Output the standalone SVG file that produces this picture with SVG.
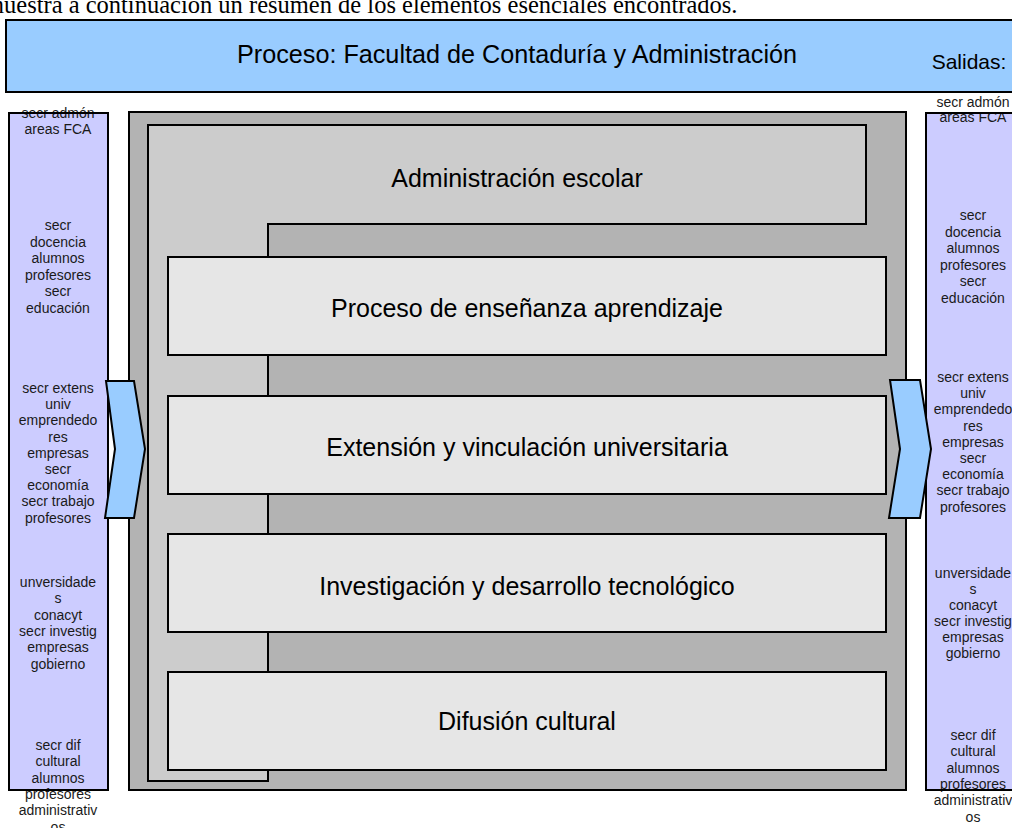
<svg xmlns="http://www.w3.org/2000/svg" width="1012" height="828" viewBox="0 0 1012 828">
<style>
.sm{font-family:"Liberation Sans",Arial,sans-serif;font-size:14px;fill:#1a1a1a;text-anchor:middle}
.lbl{font-family:"Liberation Sans",Arial,sans-serif;font-size:25px;fill:#000;text-anchor:middle}
.box{fill:#e6e6e6;stroke:#000;stroke-width:2}
.col{fill:#ccccff}
.colb{fill:none;stroke:#000;stroke-width:2}
.arr{fill:#99ccff;stroke:#000;stroke-width:2;stroke-linejoin:miter}
</style>
<rect width="1012" height="828" fill="#fff"/>
<text x="-15" y="13" font-family="Liberation Serif,'Times New Roman',serif" font-size="24.5" fill="#000">muestra a continuación un resumen de los elementos esenciales encontrados.</text>

<g id="banner">
<rect x="6" y="20" width="1020" height="72" fill="#99ccff" stroke="#000" stroke-width="2"/>
<text x="517" y="63" font-family="Liberation Sans,Arial,sans-serif" font-size="25" textLength="560" lengthAdjust="spacingAndGlyphs" text-anchor="middle" fill="#000">Proceso: Facultad de Contaduría y Administración</text>
<text x="969" y="69" font-family="Liberation Sans,Arial,sans-serif" font-size="21" text-anchor="middle" fill="#000">Salidas:</text>
</g>

<g id="inputs">
<rect class="col" x="9" y="113" width="99" height="677"/>
<text class="sm"><tspan x="58" y="118">secr admón</tspan><tspan x="58" y="134">areas FCA</tspan></text>
<text class="sm"><tspan x="58" y="230">secr</tspan><tspan x="58" y="246.5">docencia</tspan><tspan x="58" y="263">alumnos</tspan><tspan x="58" y="279.5">profesores</tspan><tspan x="58" y="296">secr</tspan><tspan x="58" y="312.5">educación</tspan></text>
<text class="sm"><tspan x="58" y="393">secr extens</tspan><tspan x="58" y="409.2">univ</tspan><tspan x="58" y="425.4">emprendedo</tspan><tspan x="58" y="441.6">res</tspan><tspan x="58" y="457.8">empresas</tspan><tspan x="58" y="474">secr</tspan><tspan x="58" y="490.2">economía</tspan><tspan x="58" y="506.4">secr trabajo</tspan><tspan x="58" y="522.6">profesores</tspan></text>
<text class="sm"><tspan x="58" y="587">unversidade</tspan><tspan x="58" y="603.3">s</tspan><tspan x="58" y="619.6">conacyt</tspan><tspan x="58" y="635.9">secr investig</tspan><tspan x="58" y="652.2">empresas</tspan><tspan x="58" y="668.5">gobierno</tspan></text>
<text class="sm"><tspan x="58" y="750">secr dif</tspan><tspan x="58" y="766.3">cultural</tspan><tspan x="58" y="782.6">alumnos</tspan><tspan x="58" y="798.9">profesores</tspan><tspan x="58" y="815.2">administrativ</tspan><tspan x="58" y="831.5">os</tspan></text>
<rect class="colb" x="9" y="113" width="99" height="677"/>
</g>

<g id="outputs">
<rect class="col" x="926" y="113" width="100" height="677"/>
<text class="sm"><tspan x="973" y="107">secr admón</tspan><tspan x="973" y="122">areas FCA</tspan></text>
<text class="sm"><tspan x="973" y="220">secr</tspan><tspan x="973" y="236.5">docencia</tspan><tspan x="973" y="253">alumnos</tspan><tspan x="973" y="269.5">profesores</tspan><tspan x="973" y="286">secr</tspan><tspan x="973" y="302.5">educación</tspan></text>
<text class="sm"><tspan x="973" y="382">secr extens</tspan><tspan x="973" y="398.2">univ</tspan><tspan x="973" y="414.4">emprendedo</tspan><tspan x="973" y="430.6">res</tspan><tspan x="973" y="446.8">empresas</tspan><tspan x="973" y="463">secr</tspan><tspan x="973" y="479.2">economía</tspan><tspan x="973" y="495.4">secr trabajo</tspan><tspan x="973" y="511.6">profesores</tspan></text>
<text class="sm"><tspan x="973" y="578">unversidade</tspan><tspan x="973" y="594">s</tspan><tspan x="973" y="610">conacyt</tspan><tspan x="973" y="626">secr investig</tspan><tspan x="973" y="642">empresas</tspan><tspan x="973" y="658">gobierno</tspan></text>
<text class="sm"><tspan x="973" y="740">secr dif</tspan><tspan x="973" y="756.3">cultural</tspan><tspan x="973" y="772.6">alumnos</tspan><tspan x="973" y="788.9">profesores</tspan><tspan x="973" y="805.2">administrativ</tspan><tspan x="973" y="821.5">os</tspan></text>
<rect class="colb" x="926" y="113" width="100" height="677"/>
</g>

<g id="process">
<rect x="129" y="112" width="777" height="678" fill="#b3b3b3" stroke="#000" stroke-width="2"/>
<path d="M148,125 H866 V224 H268 V781 H148 Z" fill="#cccccc" stroke="#000" stroke-width="2"/>
</g>
<g id="admin"><text class="lbl" x="517" y="187">Administración escolar</text></g>
<g id="ensenanza"><rect class="box" x="168" y="257" width="718" height="98"/><text class="lbl" x="527" y="317">Proceso de enseñanza aprendizaje</text></g>
<g id="extension"><rect class="box" x="168" y="396" width="718" height="98"/><text class="lbl" x="527" y="456">Extensión y vinculación universitaria</text></g>
<g id="investigacion"><rect class="box" x="168" y="534" width="718" height="98"/><text class="lbl" x="527" y="595">Investigación y desarrollo tecnológico</text></g>
<g id="difusion"><rect class="box" x="168" y="672" width="718" height="98"/><text class="lbl" x="527" y="730">Difusión cultural</text></g>

<g id="connectors">
<polygon class="arr" points="106,381 134,381 145,449 134,518 105,518 115,449"/>
<polygon class="arr" points="890,380 920,380 931,449 920,518 889,518 900,449"/>
</g>
</svg>
